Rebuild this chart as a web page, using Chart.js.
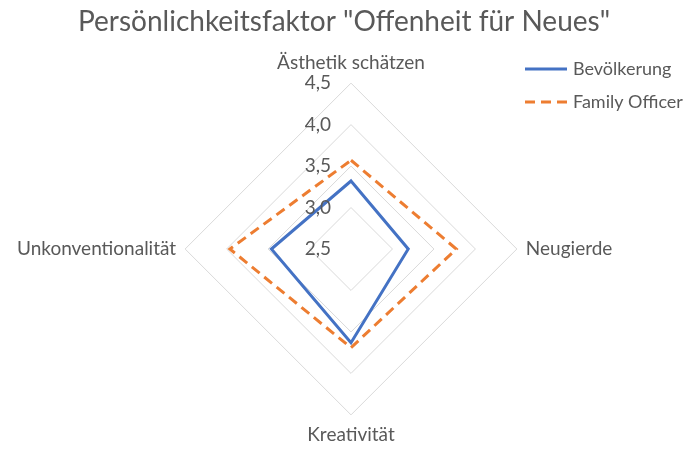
<!DOCTYPE html>
<html>
<head>
<meta charset="utf-8">
<script src="https://cdn.jsdelivr.net/npm/chart.js@4/dist/chart.umd.min.js"></script>
<style>
  html, body { margin: 0; padding: 0; background: #fff; }
  #wrap { width: 688px; height: 451px; }
</style>
</head>
<body>
<div id="wrap"><canvas id="myChart" width="688" height="451"></canvas></div>
<script>
const categories = ["Ästhetik schätzen", "Neugierde", "Kreativität", "Unkonventionalität"];
const bevoelkerung = [3.32, 3.19, 3.63, 3.46];
const familyOfficer = [3.57, 3.77, 3.69, 3.96];
const tickValues = [2.5, 3.0, 3.5, 4.0, 4.5];
const tickLabels = ["2,5", "3,0", "3,5", "4,0", "4,5"];

const textColor = "#595959";
const fontFamily = "Lato, 'Open Sans', sans-serif";

// tick labels sit left of the vertical axis, including the one in the centre
const tickLabelPlugin = {
  id: "tickLabels",
  afterDatasetsDraw(chart) {
    const scale = chart.scales.r;
    const ctx = chart.ctx;
    ctx.save();
    ctx.font = "19px " + fontFamily;
    ctx.fillStyle = textColor;
    ctx.textAlign = "right";
    ctx.textBaseline = "middle";
    scale.ticks.forEach((t) => {
      const y = scale.yCenter - scale.getDistanceFromCenterForValue(t.value);
      ctx.fillText(t.label, scale.xCenter - 20, y);
    });
    ctx.restore();
  },
};

// legend in the top right corner, drawn from the dataset styles
const legendPlugin = {
  id: "sideLegend",
  afterDraw(chart) {
    const ctx = chart.ctx;
    ctx.save();
    ctx.font = "18px " + fontFamily;
    ctx.textBaseline = "middle";
    ctx.fillStyle = textColor;
    chart.data.datasets.forEach((ds, i) => {
      const y = 69 + i * 33;
      ctx.beginPath();
      ctx.strokeStyle = ds.borderColor;
      ctx.lineWidth = ds.borderWidth;
      ctx.setLineDash(ds.borderDash || []);
      ctx.moveTo(525, y);
      ctx.lineTo(567, y);
      ctx.stroke();
      ctx.setLineDash([]);
      ctx.fillText(ds.label, 573, y);
    });
    ctx.restore();
  },
};

const ctx = document.getElementById("myChart").getContext("2d");
new Chart(ctx, {
  type: "radar",
  data: {
    labels: categories,
    datasets: [
      {
        label: "Bevölkerung",
        data: bevoelkerung,
        borderColor: "#4472C4",
        borderWidth: 3,
        borderJoinStyle: "miter",
        fill: false,
        pointRadius: 0,
      },
      {
        label: "Family Officer",
        data: familyOfficer,
        borderColor: "#ED7D31",
        borderWidth: 3,
        borderDash: [10, 6],
        borderJoinStyle: "miter",
        fill: false,
        pointRadius: 0,
      },
    ],
  },
  options: {
    responsive: false,
    animation: false,
    layout: { padding: { left: 0, right: 0, top: 0, bottom: 1 } },
    scales: {
      r: {
        min: 2.5,
        max: 4.5,
        // nudge the web a bit to the left, like the original
        afterSetDimensions: (scale) => { scale.xCenter -= 10; },
        ticks: {
          display: false,
          stepSize: 0.5,
          callback: (v) => tickLabels[tickValues.indexOf(v)] ?? v,
        },
        grid: { color: "#D9D9D9", lineWidth: 1 },
        angleLines: { display: false },
        pointLabels: {
          color: textColor,
          padding: 9,
          font: { family: fontFamily, size: 19 },
        },
      },
    },
    plugins: {
      legend: { display: false },
      tooltip: { enabled: false },
      title: {
        display: true,
        text: 'Persönlichkeitsfaktor "Offenheit für Neues"',
        color: textColor,
        font: { family: fontFamily, size: 28, weight: "normal" },
        padding: { top: 5, bottom: 10 },
      },
    },
  },
  plugins: [tickLabelPlugin, legendPlugin],
});
</script>
</body>
</html>
